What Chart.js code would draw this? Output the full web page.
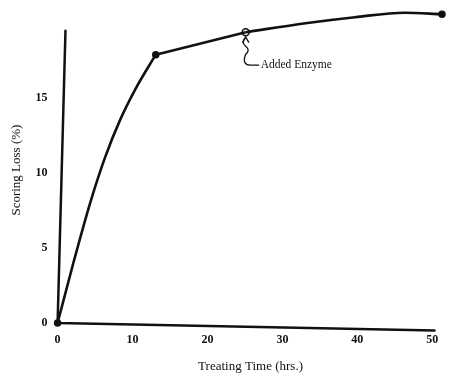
<!DOCTYPE html>
<html>
<head>
<meta charset="utf-8">
<script src="https://cdn.jsdelivr.net/npm/chart.js@4/dist/chart.umd.min.js"></script>
<style>
  html, body { margin: 0; padding: 0; background: #fff; }
  #wrap { width: 449px; height: 381px; }
</style>
</head>
<body>
<div id="wrap"><canvas id="c"></canvas></div>
<script>
const hours = [0, 2.1, 4.4, 6.3, 8.3, 10.6, 13.1, 25.1, 33.1, 39.7, 46.3, 51.3];
const loss = [0, 4.0, 8.1, 11.0, 13.5, 15.8, 17.9, 19.4, 20.0, 20.4, 20.7, 20.6];
// the curve is drawn in three pieces, split at these indices
const breaks = [0, 6, 7, 11];
const filledAt = [0, 6, 11];
const openAt = [7];
const xTicks = [0, 10, 20, 30, 40, 50];
const yTicks = [0, 5, 10, 15];
const noteText = 'Added Enzyme';

const serif = '"Liberation Serif", "DejaVu Serif", serif';
const pts = hours.map((h, i) => ({ x: h, y: loss[i] }));

const pieces = [];
for (let k = 0; k < breaks.length - 1; k++) {
  pieces.push({
    data: pts.slice(breaks[k], breaks[k + 1] + 1),
    borderColor: '#111',
    borderWidth: 2.6,
    cubicInterpolationMode: 'monotone',
    pointRadius: 0,
    clip: false
  });
}
pieces.push({
  data: filledAt.concat(openAt).map(i => pts[i]),
  showLine: false,
  pointRadius: ctx => (ctx.dataIndex >= filledAt.length ? 3.5 : 3),
  pointBackgroundColor: ctx => (ctx.dataIndex >= filledAt.length ? '#fff' : '#111'),
  pointBorderColor: '#111',
  pointBorderWidth: 1.5,
  clip: false
});

// hand-drawn looking axes + the enzyme note
const drawExtras = {
  id: 'drawExtras',
  beforeDatasetsDraw(chart) {
    const { ctx, scales: { x, y } } = chart;
    ctx.save();
    ctx.strokeStyle = '#111';
    ctx.lineWidth = 2.5;
    ctx.lineCap = 'round';
    ctx.beginPath();
    ctx.moveTo(x.getPixelForValue(0), y.getPixelForValue(0));
    ctx.lineTo(x.getPixelForValue(1.05), y.getPixelForValue(19.5));
    ctx.moveTo(x.getPixelForValue(0), y.getPixelForValue(0));
    ctx.lineTo(x.getPixelForValue(50.3), y.getPixelForValue(-0.5));
    ctx.stroke();
    ctx.restore();
  },
  afterDatasetsDraw(chart) {
    const { ctx, scales: { x, y } } = chart;
    const i = openAt[0];
    const px = x.getPixelForValue(hours[i]);
    const py = y.getPixelForValue(loss[i]);
    ctx.save();
    ctx.strokeStyle = '#111';
    ctx.lineWidth = 1.3;
    ctx.lineCap = 'round';
    ctx.beginPath();
    ctx.moveTo(px, py + 5);
    ctx.quadraticCurveTo(px - 5, py + 10, px, py + 14);
    ctx.quadraticCurveTo(px + 5, py + 18, px, py + 22);
    ctx.quadraticCurveTo(px - 4, py + 32, px + 4, py + 33);
    ctx.lineTo(px + 13, py + 33);
    ctx.stroke();
    ctx.beginPath();
    ctx.moveTo(px - 3, py + 10);
    ctx.lineTo(px, py + 5);
    ctx.lineTo(px + 3, py + 10);
    ctx.stroke();

    ctx.fillStyle = '#111';
    ctx.font = '11.5px ' + serif;
    ctx.textBaseline = 'middle';
    ctx.fillText(noteText, px + 15, py + 33);
    ctx.restore();
  }
};

new Chart(document.getElementById('c'), {
  type: 'line',
  data: { datasets: pieces },
  options: {
    responsive: true,
    maintainAspectRatio: false,
    animation: false,
    layout: { padding: { top: 3, right: 3, left: 5, bottom: 0 } },
    plugins: { legend: { display: false }, tooltip: { enabled: false } },
    scales: {
      x: {
        type: 'linear',
        min: 0,
        max: 51.5,
        grid: { display: false, drawTicks: false },
        border: { display: false },
        afterBuildTicks: s => { s.ticks = xTicks.map(v => ({ value: v })); },
        ticks: { color: '#111', font: { family: serif, size: 12, weight: 'bold' }, padding: 10, maxRotation: 0 },
        title: { display: true, text: 'Treating Time (hrs.)', color: '#111', font: { family: serif, size: 13 }, padding: { top: 1, bottom: 7 } }
      },
      y: {
        type: 'linear',
        min: 0,
        max: 20.4,
        grid: { display: false, drawTicks: false },
        border: { display: false },
        afterBuildTicks: s => { s.ticks = yTicks.map(v => ({ value: v })); },
        ticks: { color: '#111', font: { family: serif, size: 12, weight: 'bold' }, padding: 10 },
        title: { display: true, text: 'Scoring Loss (%)', color: '#111', font: { family: serif, size: 13 }, padding: { top: 4, bottom: 1 } }
      }
    }
  },
  plugins: [drawExtras]
});
</script>
</body>
</html>
